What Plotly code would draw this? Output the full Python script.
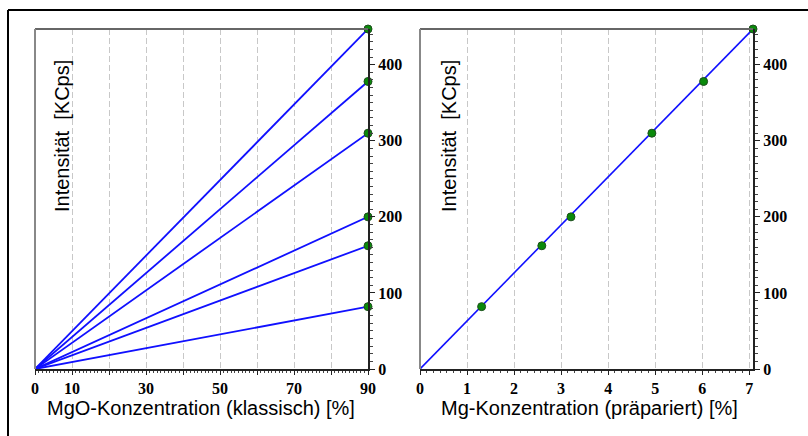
import plotly.graph_objects as go

# Data
mgo_x = [90, 90, 90, 90, 90, 90]          # MgO concentration (classic) end points [%]
intensity = [82, 162, 200, 310, 378, 447]  # intensity [KCps]
mg_x = [1.31, 2.59, 3.21, 4.93, 6.03, 7.08]  # Mg concentration (prepared) [%]
fit_x = [0, 7.08]
fit_y = [0, 447]
left_xtickvals = [0, 10, 20, 30, 40, 50, 60, 70, 80, 90]
left_xticktext = ["0", "10", "", "30", "", "50", "", "70", "", "90"]
right_xticks = [0, 1, 2, 3, 4, 5, 6, 7]
yticks = [0, 100, 200, 300, 400]

W, H = 808, 436
BLUE = "#1010ff"
GREEN = "#0a8a0a"

fig = go.Figure()

# Left: lines from origin to each point
for xv, yv in zip(mgo_x, intensity):
    fig.add_trace(go.Scatter(x=[0, xv], y=[0, yv], mode="lines",
                             line=dict(color=BLUE, width=1.8),
                             xaxis="x", yaxis="y", showlegend=False, hoverinfo="skip"))
fig.add_trace(go.Scatter(x=mgo_x, y=intensity, mode="markers",
                         marker=dict(color=GREEN, size=8, line=dict(color="#1d4d1d", width=1)),
                         xaxis="x", yaxis="y", showlegend=False, cliponaxis=False))

# Right: fit line and points
fig.add_trace(go.Scatter(x=fit_x, y=fit_y, mode="lines",
                         line=dict(color=BLUE, width=1.6),
                         xaxis="x2", yaxis="y2", showlegend=False))
fig.add_trace(go.Scatter(x=mg_x, y=intensity, mode="markers",
                         marker=dict(color=GREEN, size=8, line=dict(color="#1d4d1d", width=1)),
                         xaxis="x2", yaxis="y2", showlegend=False, cliponaxis=False))

def px_x(v):
    return v / W

def px_y(v):
    return 1 - v / H

ydom = [px_y(369), px_y(29)]
xdom1 = [px_x(35), px_x(368)]
xdom2 = [px_x(420), px_x(753)]

tickfont = dict(family="Liberation Serif", size=16, color="black", weight="bold")
grid = dict(showgrid=True, gridcolor="#c8c8c8", gridwidth=1, griddash="6px,3px")

fig.update_layout(
    width=W, height=H,
    margin=dict(l=0, r=0, t=0, b=0, autoexpand=False),
    paper_bgcolor="white", plot_bgcolor="white",
    font=dict(family="Liberation Sans", color="black"),
    # left panel
    xaxis=dict(domain=xdom1, range=[0, 90], anchor="y", tickvals=left_xtickvals,
               ticktext=left_xticktext, automargin=False,
               ticks="outside", ticklen=4, tickcolor="#222", tickwidth=1,
               showline=True, linecolor="#222", linewidth=2, zeroline=False,
               tickfont=tickfont, **grid,
               minor=dict(dtick=1, ticks="outside", ticklen=2, tickcolor="#444", showgrid=False)),
    yaxis=dict(domain=ydom, range=[0, 447], anchor="x", side="right", automargin=False,
               tickvals=yticks, ticks="outside", ticklen=5, tickcolor="#222",
               showline=True, linecolor="#222", linewidth=2, showgrid=False, zeroline=False,
               tickfont=tickfont,
               minor=dict(dtick=10, ticks="outside", ticklen=3, tickcolor="#444", showgrid=False)),
    # right panel
    xaxis2=dict(domain=xdom2, range=[0, 7.08], anchor="y2", tickvals=right_xticks, automargin=False,
                ticks="outside", ticklen=4, tickcolor="#222",
                showline=True, linecolor="#222", linewidth=2, zeroline=False,
                tickfont=tickfont, **grid,
                minor=dict(dtick=1/7, ticks="outside", ticklen=2, tickcolor="#444", showgrid=False)),
    yaxis2=dict(domain=ydom, range=[0, 447], anchor="x2", side="right", automargin=False,
                tickvals=yticks, ticks="outside", ticklen=5, tickcolor="#222",
                showline=True, linecolor="#222", linewidth=2, showgrid=False, zeroline=False,
                tickfont=tickfont,
                minor=dict(dtick=10, ticks="outside", ticklen=3, tickcolor="#444", showgrid=False)),
)

# Plot frame top/left grey lines and outer frame
shapes = []
for xr, yr in (("x domain", "y domain"), ("x2 domain", "y2 domain")):
    shapes.append(dict(type="line", xref=xr, yref=yr, x0=0, x1=1, y0=1, y1=1,
                       line=dict(color="#666", width=2)))
    shapes.append(dict(type="line", xref=xr, yref=yr, x0=0, x1=0, y0=0, y1=1,
                       line=dict(color="#888", width=2)))
shapes.append(dict(type="line", xref="paper", yref="paper", x0=px_x(8), x1=1.0,
                   y0=px_y(10), y1=px_y(10), line=dict(color="black", width=2)))
shapes.append(dict(type="line", xref="paper", yref="paper", x0=px_x(8), x1=px_x(8),
                   y0=0, y1=px_y(10), line=dict(color="black", width=2)))
fig.update_layout(shapes=shapes)

ann = []
ann.append(dict(text="MgO-Konzentration (klassisch) [%]", x=px_x(201), y=px_y(408),
                xref="paper", yref="paper", showarrow=False, xanchor="center", yanchor="middle",
                font=dict(family="Liberation Sans", size=20, color="black")))
ann.append(dict(text="Mg-Konzentration (präpariert) [%]", x=px_x(589), y=px_y(408),
                xref="paper", yref="paper", showarrow=False, xanchor="center", yanchor="middle",
                font=dict(family="Liberation Sans", size=20, color="black")))
for cx in (62, 449):
    ann.append(dict(text="Intensität  [KCps]", x=px_x(cx), y=px_y(136),
                    xref="paper", yref="paper", showarrow=False, textangle=-90,
                    xanchor="center", yanchor="middle",
                    font=dict(family="Liberation Sans", size=20, color="black")))
fig.update_layout(annotations=ann)

fig.write_html("out.html")
